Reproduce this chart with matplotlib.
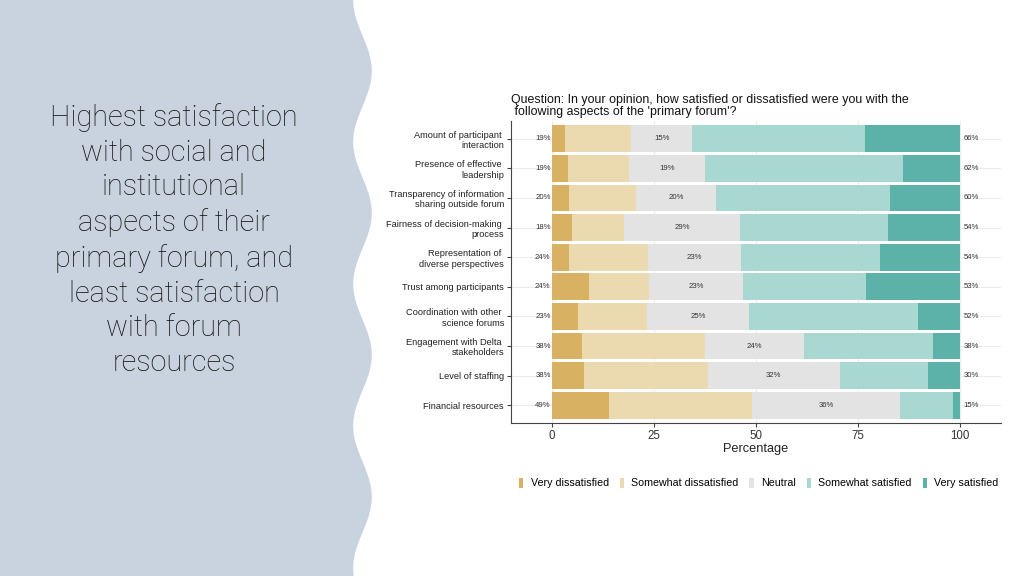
import numpy as np
import matplotlib
matplotlib.use("Agg")
import matplotlib.pyplot as plt
from matplotlib.patches import Patch

# data (percent of respondents)
aspects = ["Amount of participant \ninteraction",
           "Presence of effective \nleadership",
           "Transparency of information\nsharing outside forum",
           "Fairness of decision-making \nprocess",
           "Representation of \ndiverse perspectives",
           "Trust among participants",
           "Coordination with other \nscience forums",
           "Engagement with Delta \nstakeholders",
           "Level of staffing",
           "Financial resources"]

very_dis = [3.3, 3.9, 4.2, 5.0, 4.2, 9.1, 6.5, 7.5, 7.8, 13.9]
some_dis = [16.1, 14.9, 16.4, 12.6, 19.4, 14.8, 16.9, 29.9, 30.4, 35.2]
neutral = [15.0, 18.8, 19.6, 28.6, 22.8, 22.9, 25.0, 24.3, 32.3, 36.2]
some_sat = [42.4, 48.4, 42.7, 36.2, 34.0, 30.2, 41.2, 31.7, 21.7, 13.0]
very_sat = [23.2, 14.0, 17.1, 17.6, 19.6, 23.0, 10.4, 6.6, 7.8, 1.7]

left_lab = ["19%", "19%", "20%", "18%", "24%", "24%", "23%", "38%", "38%", "49%"]
mid_lab = ["15%", "19%", "20%", "29%", "23%", "23%", "25%", "24%", "32%", "36%"]
right_lab = ["66%", "62%", "60%", "54%", "54%", "53%", "52%", "38%", "30%", "15%"]

levels = ["Very dissatisfied", "Somewhat dissatisfied", "Neutral",
          "Somewhat satisfied", "Very satisfied"]
colors = ["#d8b262", "#ebd9b0", "#e3e3e3", "#a9d8d2", "#5cb2a8"]

headline = ("Highest satisfaction\nwith social and\ninstitutional\naspects of their\n"
            "primary forum, and\nleast satisfaction\nwith forum\nresources")
question = ("Question: In your opinion, how satisfied or dissatisfied were you with the\n"
            " following aspects of the 'primary forum'?")

fig = plt.figure(figsize=(10.24, 5.76), dpi=100)
fig.patch.set_facecolor("white")

# slide background with the wavy side panel
bg = fig.add_axes([0, 0, 1, 1])
bg.set_xlim(0, 1024)
bg.set_ylim(576, 0)
bg.axis("off")
yy = np.linspace(0, 576, 400)
edge = 362.5 - 9.3 * np.cos(2 * np.pi * yy / 142.0)
bg.fill_betweenx(yy, 0, edge, color="#c8d3df", lw=0)
bg.text(174, 240, headline, ha="center", va="center", fontsize=20.8,
        family="Roboto", fontweight="light", color="#111111", linespacing=1.30)

# chart
ax = fig.add_axes([0.499, 0.2656, 0.4785, 0.5244])
n = len(aspects)
ypos = np.arange(n)
series = [very_dis, some_dis, neutral, some_sat, very_sat]
left = np.zeros(n)
for vals, col in zip(series, colors):
    ax.barh(ypos, vals, left=left, height=0.9, color=col, lw=0, zorder=2)
    left = left + np.array(vals)

neu_start = np.array(very_dis) + np.array(some_dis)
neu_mid = neu_start + np.array(neutral) / 2
lab_kw = dict(fontsize=5.6, color="#333333", va="center", family="Liberation Sans", zorder=3)
for i in range(n):
    ax.text(-0.3, ypos[i], left_lab[i], ha="right", **lab_kw)
    ax.text(neu_mid[i], ypos[i], mid_lab[i], ha="center", **lab_kw)
    ax.text(100.8, ypos[i], right_lab[i], ha="left", **lab_kw)

ax.set_xlim(-10, 110)
ax.set_ylim(n - 0.4, -0.6)
ax.set_xticks([0, 25, 50, 75, 100])
ax.set_yticks(ypos)
ax.set_yticklabels(aspects, fontsize=6.7, family="Liberation Sans", color="#222222")
for t in ax.get_xticklabels():
    t.set_fontsize(8.3)
    t.set_family("Liberation Sans")
    t.set_color("#333333")
ax.set_xlabel("Percentage", fontsize=9.2, family="Liberation Sans", color="#222222", labelpad=1)
ax.grid(True, color="#ececec", lw=0.8, zorder=0)
ax.set_axisbelow(True)
for s in ["top", "right"]:
    ax.spines[s].set_visible(False)
for s in ["left", "bottom"]:
    ax.spines[s].set_color("#444444")
    ax.spines[s].set_linewidth(0.8)
ax.tick_params(axis="both", length=3, width=0.8, color="#444444", pad=2)

fig.text(0.499, 0.796, question, ha="left", va="bottom", fontsize=8.9,
         family="Liberation Sans", color="#111111", linespacing=1.0)

handles = [Patch(facecolor=c, edgecolor="none") for c in colors]
fig.legend(handles, levels, loc="center", bbox_to_anchor=(0.741, 0.161), ncol=5,
           frameon=False, handlelength=0.4, handleheight=1.0, handletextpad=0.7,
           columnspacing=1.0, prop={"family": "Liberation Sans", "size": 7.7})

fig.savefig("out.png", dpi=100)
